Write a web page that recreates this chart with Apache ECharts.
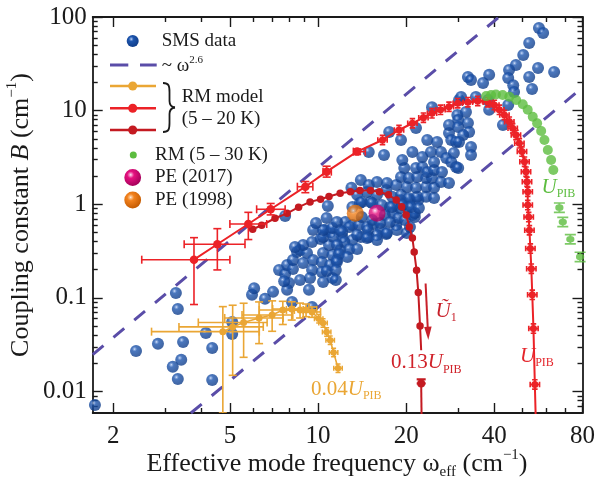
<!DOCTYPE html>
<html>
<head>
<meta charset="utf-8">
<title>Coupling constant vs effective mode frequency</title>
<script src="https://cdn.jsdelivr.net/npm/echarts@6/dist/echarts.min.js"></script>
<style>
  html, body { margin: 0; padding: 0; background: #fff; }
  #chart { width: 595px; height: 484px; }
</style>
</head>
<body>
<div id="chart"></div>
<script>
// axis ranges and ticks (cm^-1 on both axes, log-log)
const xMin = 1.7, xMax = 80;
const yMin = 0.0059, yMax = 100;
const xTicks = [2, 5, 10, 20, 40, 80];
const xMinorTicks = [3, 4, 6, 7, 8, 9, 30, 50, 60, 70];
const yTicks = [0.01, 0.1, 1, 10, 100];
const yMinorTicks = [0.007, 0.008, 0.009,
  0.02, 0.03, 0.04, 0.05, 0.06, 0.07, 0.08, 0.09,
  0.2, 0.3, 0.4, 0.5, 0.6, 0.7, 0.8, 0.9,
  2, 3, 4, 5, 6, 7, 8, 9,
  20, 30, 40, 50, 60, 70, 80, 90];

// single-molecule spectroscopy data [omega_eff, B]
const smsData = [
  [1.73,0.0072],[2.39,0.0271],[2.84,0.0323],[3.27,0.113],[3.32,0.0762],[3.46,0.0339],[3.41,0.0218],
  [3.19,0.0184],[3.32,0.0136],[4.14,0.0423],[4.35,0.0292],[4.35,0.0133],[5.09,0.0554],[5.09,0.0412],
  [5.95,0.108],[6.05,0.127],[6.59,0.0978],[7.02,0.116],[7.36,0.199],[7.72,0.180],[7.84,0.225],
  [8.21,0.204],[7.96,0.144],[7.84,0.122],[7.66,0.151],[8.48,0.309],[9.54,0.0801],[8.15,0.0905],
  [8.21,0.254],[8.68,0.325],[9.17,0.302],[8.89,0.236],[9.62,0.254],[10.4,0.302],[10.3,0.242],
  [9.54,0.199],[10.3,0.189],[11.0,0.225],[11.2,0.287],[11.9,0.325],[11.6,0.254],[9.39,0.163],
  [8.68,0.155],[10.4,0.148],[11.2,0.163],[9.31,0.122],[10.7,0.194],[8.89,0.368],[9.54,0.396],
  [10.2,0.426],[10.6,0.532],[11.0,0.506],[10.9,0.368],[10.4,0.448],[11.3,0.448],[12.1,0.448],
  [9.62,0.532],[10.4,0.532],[11.2,0.559],[9.84,0.632],[10.7,0.714],[10.8,0.958],[12.4,0.647],
  [11.9,0.532],[13.1,0.601],[11.6,0.647],[12.8,0.572],[12.1,0.506],[13.8,0.601],[14.7,0.572],
  [15.5,0.616],[16.4,0.545],[17.1,0.482],[15.9,0.470],[14.9,0.448],[14.0,0.448],[13.1,0.416],
  [12.3,0.396],[11.6,0.368],[11.8,0.295],[12.8,0.333],[13.6,0.333],[12.6,0.274],[11.6,0.242],
  [11.5,0.199],[11.5,0.155],[18.5,0.601],[21.0,0.768],[7.72,0.75],[8.34,0.35],
  [13.1,0.934],[13.9,1.03],[15.1,1.06],[14.1,0.732],[15.3,0.68],[16.3,0.632],[17.2,0.494],
  [18.6,0.532],[20.1,0.494],[14.8,0.532],[13.6,0.470],[14.7,0.437],[15.9,0.416],[17.6,0.934],
  [18.0,0.807],[16.9,0.768],[18.8,0.714],[19.8,0.68],[17.6,0.647],[20.6,0.572],[21.4,0.732],
  [19.1,1.11],[20.6,1.11],[22.0,1.11],[19.1,0.912],[20.3,0.934],[21.4,0.807],
  [13.0,1.50],[13.6,1.26],[14.7,1.35],[15.9,1.26],[17.1,1.42],[17.9,1.20],[19.2,1.26],
  [20.4,1.17],[21.8,1.20],[23.4,1.20],[24.9,1.17],[14.1,1.06],[15.3,1.03],[16.5,0.982],
  [17.9,0.934],[19.4,0.982],[20.8,0.934],[22.1,0.912],[14.0,1.82],[14.9,1.61],[15.9,1.73],
  [17.2,1.69],[18.5,1.61],[20.1,1.53],[21.6,1.50],[23.4,1.53],[24.9,1.50],[19.2,1.95],
  [20.4,1.91],[21.8,1.95],[23.4,1.91],[24.5,1.91],[26.3,1.73],[28.0,1.69],[19.7,2.44],
  [21.6,2.44],[22.7,2.50],[23.6,2.21],[24.9,2.32],[26.5,2.21],[29.6,2.50],[19.4,2.97],
  [22.7,3.20],[24.3,3.62],[24.9,2.83],[26.3,3.62],[27.4,3.12],[29.1,3.53],[28.5,2.83],
  [14.9,3.62],[16.8,3.36],[21.0,3.62],[17.5,5.91],[19.2,4.86],[23.6,4.86],[25.5,4.63],
  [28.0,5.77],[28.5,4.86],[29.6,4.63],[21.6,6.53],[24.5,10.9],[28.0,7.03],[29.9,8.98],[30.3,13.0],
  [56.8,76.3],[58.7,67.4],[52.6,52.8],[50.2,39.3],[47.4,30.7],[44.9,27.2],[44.6,22.3],
  [46.4,18.7],[46.7,15.8],[56.4,28.5],[52.6,22.9],[53.8,17.0],[64.0,25.9],[32.5,22.9],
  [33.3,21.2],[36.6,19.7],[38.4,24.1],[30.8,14.0],[34.6,14.0],[38.4,10.2],[32.0,9.67],
  [30.1,7.95],[32.5,7.38],[30.1,6.69],[32.8,5.91],[31.3,5.49],[30.3,4.63],[33.3,4.09],
  [33.3,3.36],[30.1,2.44],[42.8,7.03],[44.6,11.5],[38.1,13.0]
];

// ~ omega^2.6 guide lines, end points
const fitUpper = [[1.7, 0.0248], [41.5, 100]];
const fitLower = [[3.68, 0.0059], [80, 17.7]];

// RM model, U_PIB (bright red)
const rmRed = [
  [3.77,0.256],[4.53,0.374],[5.78,0.616],[6.89,0.884],[9.05,1.54],[10.7,2.23],[13.6,3.65],
  [16.6,4.86],[18.9,6.21],[21.0,7.33],[22.9,8.41],[24.5,9.37],[26.2,10.2],[28.0,11.0],
  [30.0,12.0],[32.5,12.3],[35.1,12.7],[38.0,12.3],[40.0,11.5],[41.6,10.2],[43.3,8.98],
  [45.0,7.62],[46.2,6.48],[47.4,5.50],[48.7,4.48],[49.7,3.65],[50.7,2.85],[51.3,2.23],
  [51.7,1.74],[52.0,1.36],[52.0,0.98],[52.4,0.73],[52.7,0.528],[53.1,0.336],[53.5,0.205],
  [53.9,0.108],[54.4,0.047],[55.0,0.0119],[55.5,0.004]
];
const rmRedErrX = [[2.50,5.0],[3.49,5.63],[5.0,6.68],[6.17,7.72],[8.5,9.6],[10.4,11.1],[13.2,14.5]];
const rmRedErrY = [[0.085,0.44],[0.199,0.549],[0.42,0.82],[0.77,1.02],[1.33,1.75],[1.95,2.55],[3.4,3.9]];

// RM model, 0.13 U_PIB (dark red)
const rmDark = [
  [5.98,0.541],[6.42,0.597],[7.13,0.709],[7.84,0.80],[8.58,0.931],[9.39,1.06],[10.2,1.13],
  [10.9,1.21],[11.9,1.31],[12.9,1.36],[13.9,1.40],[15.1,1.40],[16.2,1.36],[17.4,1.26],
  [18.5,1.11],[19.3,0.943],[20.0,0.769],[20.5,0.572],[21.0,0.435],[21.3,0.31],[21.7,0.197],
  [22.0,0.114],[22.3,0.0502],[22.5,0.0276]
];
const rmDarkTail = [[22.5,0.0122],[22.6,0.004]];

// RM model, 0.04 U_PIB (gold)
const rmGold = [
  [4.73,0.0436],[5.11,0.049],[5.57,0.0547],[6.29,0.0611],[6.97,0.0657],[7.58,0.0744],
  [8.13,0.0762],[8.68,0.0744],[9.1,0.0744],[9.54,0.0708],[10.05,0.060],[10.4,0.054],
  [10.7,0.0433],[11.0,0.0353],[11.3,0.0262],[11.7,0.0177]
];
const rmGoldErrX = [[2.70,6.3],[3.35,6.5],[3.9,6.7],[4.8,7.6],[5.5,8.2],[6.3,8.9],[7.0,9.3],[7.8,9.5],[8.3,9.9],[8.9,10.2]];
const rmGoldErrY = [[0.0059,0.0807],[0.0149,0.0835],[0.0232,0.0877],[0.0325,0.0906],[0.044,0.093],
  [0.052,0.092],[0.058,0.091],[0.061,0.088],[0.063,0.086],[0.062,0.08]];

// RM (5 - 30 K), U_PIB (green)
const rmGreen = [
  [37.5,14.3],[39.0,14.7],[40.5,14.9],[42.7,14.7],[45.0,14.1],[47.5,13.0],[50.0,11.7],
  [52.0,10.2],[54.1,8.62],[56.0,7.33],[57.8,6.06],[59.3,4.86],[60.9,3.80],[62.5,2.97],
  [63.6,2.32],[66.7,0.92],[68.5,0.647],[72.7,0.423],[78.5,0.274]
];

// photon echo points
const pe2017 = [[15.9, 0.80]];
const pe1998 = [[13.4, 0.80]];

const F = '"Liberation Serif", "Times New Roman", serif';
const INK = '#1a1a1a';
const RED = '#ec2227', DARK = '#c41a21', GOLD = '#eaa634', GREEN = '#5cbd3f', DASH = '#5a4da8';

const lg = v => Math.log10(v);
const pt = p => [lg(p[0]), lg(p[1])];
const fmt = v => String(+Math.pow(10, v).toPrecision(2));

const crossSymbol = 'path://M8.5,0H11.5V20H8.5Z M5,0H15V3H5Z M5,17H15V20H5Z M0,8.5H20V11.5H0Z M0,5H3V15H0Z M17,5H20V15H17Z M3.5,10A6.5,6.5,0,1,1,16.5,10A6.5,6.5,0,1,1,3.5,10Z';
const hourglassSymbol = 'path://M2,0H18V3H2Z M2,17H18V20H2Z M8.5,0H11.5V20H8.5Z M4,10A6,6,0,1,1,16,10A6,6,0,1,1,4,10Z';

const sphere = (hi, mid, edge) => ({
  type: 'radial', x: 0.38, y: 0.34, r: 0.68,
  colorStops: [{ offset: 0, color: '#f4f8ff' }, { offset: 0.09, color: hi }, { offset: 0.3, color: mid }, { offset: 1, color: edge }]
});
const blueBall = sphere('#7ea2de', '#1d55ad', '#0f3c88');
const pinkBall = sphere('#f59ccd', '#e5117f', '#a3005a');
const orangeBall = sphere('#fcc48e', '#f2821e', '#c45a00');

// ---- axes: major + minor tick layers on all four sides ----
const lineSt = { color: INK, width: 1.8 };
function xAx(pos, ticks, len, showLine, showLabel) {
  return {
    type: 'value', position: pos, min: lg(xMin), max: lg(xMax),
    splitLine: { show: false },
    axisLine: { show: showLine, onZero: false, lineStyle: lineSt },
    axisTick: { inside: true, length: len, customValues: ticks.map(lg), lineStyle: { color: INK, width: 1.4 } },
    axisLabel: showLabel
      ? { customValues: ticks.map(lg), formatter: fmt, margin: 11, color: INK, fontFamily: F, fontSize: 25 }
      : { show: false }
  };
}
function yAx(pos, ticks, len, showLine, showLabel) {
  return {
    type: 'value', position: pos, min: lg(yMin), max: lg(yMax),
    splitLine: { show: false },
    axisLine: { show: showLine, onZero: false, lineStyle: lineSt },
    axisTick: { inside: true, length: len, customValues: ticks.map(lg), lineStyle: { color: INK, width: 1.4 } },
    axisLabel: showLabel
      ? { customValues: ticks.map(lg), formatter: fmt, margin: 6, color: INK, fontFamily: F, fontSize: 25 }
      : { show: false }
  };
}

// error bars drawn through the axes
function errorBars(name, pts, ex, ey, color, cap, width, z) {
  return {
    type: 'custom', name, z, clip: true,
    xAxisIndex: 0, yAxisIndex: 0,
    data: ey.map((e, i) => {
      const p = pts[i];
      const xr = ex ? ex[i] : [p[0], p[0]];
      return [lg(p[0]), lg(p[1]), lg(xr[0]), lg(xr[1]), lg(e[0]), lg(e[1])];
    }),
    encode: { x: 0, y: 1 },
    renderItem: (params, api) => {
      const c = api.coord([api.value(0), api.value(1)]);
      const xl = api.coord([api.value(2), api.value(1)])[0];
      const xh = api.coord([api.value(3), api.value(1)])[0];
      const yl = api.coord([api.value(0), api.value(4)])[1];
      const yh = api.coord([api.value(0), api.value(5)])[1];
      const st = { stroke: color, lineWidth: width };
      const kids = [];
      const seg = (x1, y1, x2, y2) => kids.push({ type: 'line', shape: { x1, y1, x2, y2 }, style: st });
      if (xh - xl > 1) {
        seg(xl, c[1], xh, c[1]);
        seg(xl, c[1] - cap, xl, c[1] + cap);
        seg(xh, c[1] - cap, xh, c[1] + cap);
      }
      seg(c[0], yl, c[0], yh);
      seg(c[0] - cap, yl, c[0] + cap, yl);
      seg(c[0] - cap, yh, c[0] + cap, yh);
      return { type: 'group', children: kids };
    }
  };
}

// ---- text helpers ----
const labelRich = (color) => ({
  n: { fontSize: 21, fontFamily: F, lineHeight: 26, verticalAlign: 'middle', fill: color, color },
  i: { fontSize: 21, fontFamily: F, fontStyle: 'italic', lineHeight: 26, verticalAlign: 'middle', fill: color, color },
  s: { fontSize: 12, fontFamily: F, lineHeight: 12, verticalAlign: 'bottom', fill: color, color }
});
function txt(x, y, text, opts) {
  const o = opts || {};
  return {
    type: 'text', x, y, z: 100, rotation: o.rotation || 0,
    style: {
      text, rich: o.rich, fill: o.fill || INK,
      fontFamily: F, fontSize: o.fontSize || 19,
      align: o.align || 'left', textAlign: o.align || 'left',
      verticalAlign: 'middle', textVerticalAlign: 'middle'
    }
  };
}
const titleRich = {
  n: { fontSize: 26, fontFamily: F, lineHeight: 32, verticalAlign: 'middle', fill: INK },
  i: { fontSize: 26, fontFamily: F, fontStyle: 'italic', lineHeight: 32, verticalAlign: 'middle', fill: INK },
  sub: { fontSize: 15, fontFamily: F, lineHeight: 15, verticalAlign: 'bottom', fill: INK },
  sup: { fontSize: 15, fontFamily: F, lineHeight: 15, verticalAlign: 'top', fill: INK }
};
const legendRich = {
  n: { fontSize: 19, fontFamily: F, lineHeight: 22, verticalAlign: 'middle', fill: INK },
  sup: { fontSize: 11, fontFamily: F, lineHeight: 11, verticalAlign: 'top', fill: INK }
};

const legendLine = (y, color) => [
  { type: 'line', z: 100, shape: { x1: 110, y1: y, x2: 156, y2: y }, style: { stroke: color, lineWidth: 2.4 } },
  { type: 'circle', z: 101, shape: { cx: 132.7, cy: y, r: 4.5 }, style: { fill: color } }
];
const braceSt = { stroke: INK, lineWidth: 1.8, fill: null };
const brace = [
  { type: 'bezierCurve', z: 100, shape: { x1: 163, y1: 83, cpx1: 169, cpy1: 83, cpx2: 169.5, cpy2: 86, x2: 169.5, y2: 92 }, style: braceSt },
  { type: 'line', z: 100, shape: { x1: 169.5, y1: 92, x2: 169.5, y2: 101 }, style: braceSt },
  { type: 'bezierCurve', z: 100, shape: { x1: 169.5, y1: 101, cpx1: 169.5, cpy1: 105, cpx2: 171, cpy2: 107, x2: 175, y2: 107.5 }, style: braceSt },
  { type: 'bezierCurve', z: 100, shape: { x1: 175, y1: 107.5, cpx1: 171, cpy1: 108, cpx2: 169.5, cpy2: 110, x2: 169.5, y2: 114 }, style: braceSt },
  { type: 'line', z: 100, shape: { x1: 169.5, y1: 114, x2: 169.5, y2: 123 }, style: braceSt },
  { type: 'bezierCurve', z: 100, shape: { x1: 169.5, y1: 123, cpx1: 169.5, cpy1: 129, cpx2: 169, cpy2: 132, x2: 163, y2: 132 }, style: braceSt }
];

const graphics = [
  // legend
  { type: 'circle', z: 100, shape: { cx: 132.7, cy: 41, r: 6 }, style: { fill: blueBall } },
  txt(161.7, 41, 'SMS data'),
  { type: 'line', z: 100, shape: { x1: 110, y1: 65, x2: 128.3, y2: 65 }, style: { stroke: DASH, lineWidth: 3 } },
  { type: 'line', z: 100, shape: { x1: 140, y1: 65, x2: 156.7, y2: 65 }, style: { stroke: DASH, lineWidth: 3 } },
  txt(161.7, 66, '{n|~ ω}{sup|2.6}', { rich: legendRich }),
  ...legendLine(86, GOLD),
  ...legendLine(108.3, RED),
  ...legendLine(130, DARK),
  ...brace,
  txt(181.7, 96.7, 'RM model'),
  txt(181.7, 119, '(5 – 20 K)'),
  { type: 'circle', z: 100, shape: { cx: 133.3, cy: 155, r: 3.5 }, style: { fill: GREEN } },
  txt(155, 155, 'RM (5 – 30 K)'),
  { type: 'circle', z: 100, shape: { cx: 132.7, cy: 177.5, r: 8.4 }, style: { fill: pinkBall } },
  txt(155, 177.5, 'PE (2017)'),
  { type: 'circle', z: 100, shape: { cx: 132.7, cy: 200, r: 8.4 }, style: { fill: orangeBall } },
  txt(155, 200, 'PE (1998)'),
  // curve labels
  txt(311, 389, '{n|0.04}{i|U}{s|PIB}', { rich: labelRich(GOLD) }),
  txt(391, 362.5, '{n|0.13}{i|U}{s|PIB}', { rich: labelRich('#d0222a') }),
  txt(520, 356, '{i|U}{s|PIB}', { rich: labelRich('#e4252b') }),
  txt(541.5, 187, '{i|U}{s|PIB}', { rich: labelRich(GREEN) }),
  txt(435.5, 311, '{i|Ũ}{s|1}', { rich: labelRich('#c8202a') }),
  { type: 'line', z: 100, shape: { x1: 425.6, y1: 283.5, x2: 427.8, y2: 329 }, style: { stroke: '#c8202a', lineWidth: 2 } },
  { type: 'polygon', z: 100, shape: { points: [[424.2, 327], [431.6, 326.6], [428.3, 340]] }, style: { fill: '#c8202a' } },
  // axis titles
  txt(337, 464, '{n|Effective mode frequency ω}{sub|eff}{n| (cm}{sup|−1}{n|)}', { rich: titleRich, align: 'center' }),
  txt(21, 215, '{n|Coupling constant }{i|B}{n| (cm}{sup|−1}{n|)}', { rich: titleRich, align: 'center', rotation: Math.PI / 2 })
];

const chart = echarts.init(document.getElementById('chart'), null, { renderer: 'canvas' });
chart.setOption({
  animation: false,
  backgroundColor: '#ffffff',
  grid: { left: 92.7, right: 12.5, top: 17, bottom: 71, containLabel: false, outerBoundsMode: 'none' },
  xAxis: [
    xAx('bottom', xTicks, 10, true, true),
    xAx('bottom', xMinorTicks, 5, false, false),
    xAx('top', xTicks, 10, true, false),
    xAx('top', xMinorTicks, 5, false, false)
  ],
  yAxis: [
    yAx('left', yTicks, 10, true, true),
    yAx('left', yMinorTicks, 5, false, false),
    yAx('right', yTicks, 10, true, false),
    yAx('right', yMinorTicks, 5, false, false)
  ],
  series: [
    { type: 'line', name: 'fit upper', z: 1, data: fitUpper.map(pt), symbol: 'none',
      lineStyle: { color: DASH, width: 3, type: [14, 13] } },
    { type: 'line', name: 'fit lower', z: 1, data: fitLower.map(pt), symbol: 'none',
      lineStyle: { color: DASH, width: 3, type: [14, 13] } },
    { type: 'scatter', name: 'SMS data', z: 2, data: smsData.map(pt), symbolSize: 12,
      itemStyle: { color: blueBall } },
    errorBars('gold err', rmGold, rmGoldErrX, rmGoldErrY, GOLD, 4, 1.6, 3),
    { type: 'line', name: '0.04 UPIB', z: 3, symbolSize: 7,
      data: rmGold.map((p, i) => ({ value: pt(p), symbol: i < 10 ? 'circle' : crossSymbol, symbolSize: i < 10 ? 7 : 10 })),
      lineStyle: { color: GOLD, width: 1.6 }, itemStyle: { color: GOLD } },
    { type: 'line', name: '0.13 UPIB', z: 4, symbol: 'circle', symbolSize: 7.5,
      data: rmDark.map((p, i) => ({ value: pt(p), symbol: i === rmDark.length - 1 ? 'none' : 'circle' })),
      lineStyle: { color: DARK, width: 2 }, itemStyle: { color: DARK } },
    { type: 'line', name: '0.13 UPIB tail', z: 4,
      data: rmDarkTail.map((p, i) => ({ value: pt(p), symbol: i === 0 ? 'circle' : 'none', symbolSize: 8 })),
      lineStyle: { color: DARK, width: 2 }, itemStyle: { color: DARK } },
    errorBars('dark err', rmDarkTail.slice(0, 1), null, [[0.0122, 0.0135]], DARK, 4.5, 2.2, 4),
    errorBars('red err', rmRed, rmRedErrX, rmRedErrY, RED, 4, 1.6, 5),
    { type: 'line', name: 'UPIB', z: 5,
      data: rmRed.map((p, i) => ({
        value: pt(p),
        symbol: i === rmRed.length - 1 ? 'none' : (i < 7 ? 'circle' : crossSymbol),
        symbolSize: i < 7 ? 8.5 : 11
      })),
      lineStyle: { color: RED, width: 2 }, itemStyle: { color: RED } },
    { type: 'scatter', name: 'RM 5-30 K', z: 5,
      data: rmGreen.map((p, i) => ({ value: pt(p), symbol: i < 15 ? 'circle' : hourglassSymbol, symbolSize: i < 15 ? 10 : 11 })),
      itemStyle: { color: GREEN } },
    { type: 'scatter', name: 'PE (1998)', z: 6, data: pe1998.map(pt), symbolSize: 17, itemStyle: { color: orangeBall } },
    { type: 'scatter', name: 'PE (2017)', z: 6, data: pe2017.map(pt), symbolSize: 17, itemStyle: { color: pinkBall } }
  ],
  graphic: { elements: graphics }
});
window.addEventListener('resize', () => chart.resize());
</script>
</body>
</html>
